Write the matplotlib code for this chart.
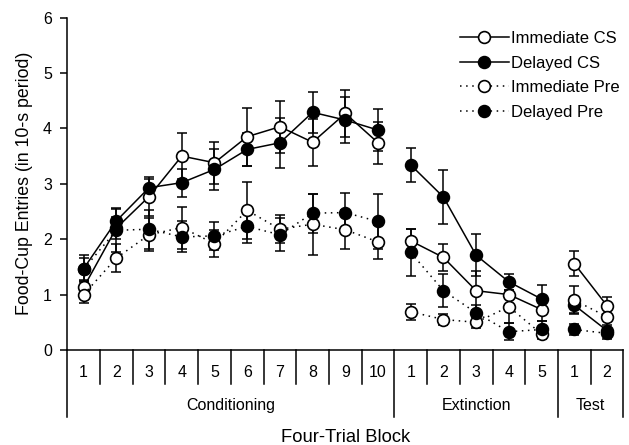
import numpy as np
import matplotlib
matplotlib.use('Agg')
import matplotlib.pyplot as plt
from matplotlib.lines import Line2D
from matplotlib.transforms import blended_transform_factory

plt.rcParams['font.family'] = ['Liberation Sans', 'DejaVu Sans']
plt.rcParams['font.size'] = 11.5

# blocks: 10 conditioning, 5 extinction, 2 test
groups = ['Conditioning', 'Extinction', 'Test']
group_sizes = [10, 5, 2]
block_labels = [str(i) for i in range(1, 11)] + [str(i) for i in range(1, 6)] + ['1', '2']

imm_cs = [1.13, 2.20, 2.77, 3.50, 3.38, 3.85, 4.03, 3.75, 4.27, 3.74,
          1.97, 1.67, 1.07, 1.00, 0.73,
          1.56, 0.80]
imm_cs_err = [0.12, 0.20, 0.35, 0.42, 0.38, 0.52, 0.47, 0.42, 0.42, 0.38,
              0.22, 0.25, 0.35, 0.20, 0.20,
              0.22, 0.15]

del_cs = [1.47, 2.33, 2.93, 3.02, 3.26, 3.62, 3.74, 4.29, 4.15, 3.97,
          3.34, 2.76, 1.71, 1.23, 0.92,
          0.81, 0.35]
del_cs_err = [0.25, 0.22, 0.15, 0.25, 0.37, 0.30, 0.45, 0.37, 0.42, 0.38,
              0.30, 0.48, 0.38, 0.15, 0.25,
              0.15, 0.10]

imm_pre = [1.00, 1.66, 2.08, 2.21, 1.92, 2.52, 2.18, 2.27, 2.17, 1.95,
           0.69, 0.55, 0.50, 0.78, 0.29,
           0.90, 0.60]
imm_pre_err = [0.15, 0.25, 0.30, 0.38, 0.25, 0.52, 0.25, 0.55, 0.35, 0.30,
               0.14, 0.10, 0.10, 0.30, 0.10,
               0.25, 0.20]

del_pre = [1.46, 2.16, 2.18, 2.04, 2.06, 2.23, 2.08, 2.47, 2.48, 2.32,
           1.76, 1.07, 0.67, 0.33, 0.37,
           0.37, 0.30]
del_pre_err = [0.20, 0.40, 0.35, 0.28, 0.25, 0.30, 0.30, 0.35, 0.35, 0.50,
               0.42, 0.30, 0.15, 0.15, 0.15,
               0.10, 0.10]

series = [
    ('Immediate CS', imm_cs, imm_cs_err, 'white', '-'),
    ('Delayed CS', del_cs, del_cs_err, 'black', '-'),
    ('Immediate Pre', imm_pre, imm_pre_err, 'white', (0, (1, 3))),
    ('Delayed Pre', del_pre, del_pre_err, 'black', (0, (1, 3))),
]


def main():
    fig = plt.figure(figsize=(6.29, 4.45), dpi=100)
    ax = fig.add_axes([0.107, 0.2135, 0.884, 0.747])

    x = np.arange(len(block_labels)) + 0.5
    bounds = np.cumsum([0] + group_sizes)

    handles = []
    for label, y, err, face, ls in series:
        y = np.asarray(y)
        err = np.asarray(err)
        ax.errorbar(x, y, yerr=err, fmt='none', ecolor='black', elinewidth=1.1,
                    capsize=3.5, capthick=1.1, zorder=2)
        for a, b in zip(bounds[:-1], bounds[1:]):
            ax.plot(x[a:b], y[a:b], color='black', linestyle=ls, linewidth=1.1,
                    marker='o', markersize=8.5, markerfacecolor=face,
                    markeredgecolor='black', markeredgewidth=1.2, zorder=3)
        handles.append(Line2D([], [], color='black', linestyle=ls, linewidth=1.1,
                              marker='o', markersize=8.5, markerfacecolor=face,
                              markeredgecolor='black', markeredgewidth=1.2,
                              label=label))

    ax.set_xlim(0, len(block_labels))
    ax.set_ylim(0, 6)
    ax.set_yticks(range(7))
    ax.set_xticks([])
    ax.tick_params(axis='y', direction='out', length=5, width=1.1, pad=6)
    for s in ['top', 'right']:
        ax.spines[s].set_visible(False)
    ax.spines['left'].set_linewidth(1.1)
    ax.spines['bottom'].set_linewidth(1.1)

    ax.set_ylabel('Food-Cup Entries (in 10-s period)', labelpad=7, fontsize=12.8)

    # category table below the axis
    trans = blended_transform_factory(ax.transData, ax.transAxes)
    for b in range(len(block_labels) + 1):
        top_len = -0.2016 if b in bounds else -0.102
        ax.plot([b, b], [0, top_len], color='black', linewidth=1.1,
                transform=trans, clip_on=False)
    for xi, lab in zip(x, block_labels):
        ax.text(xi, -0.069, lab, transform=trans, ha='center', va='center')
    for a, b, g in zip(bounds[:-1], bounds[1:], groups):
        ax.text((a + b) / 2, -0.168, g, transform=trans, ha='center', va='center')
    ax.text(0.5, -0.262, 'Four-Trial Block', transform=ax.transAxes,
            ha='center', va='center', fontsize=13.2)

    ax.legend(handles=handles, loc='upper right', bbox_to_anchor=(1.012, 0.99),
              frameon=False, fontsize=12, handlelength=2.95, handletextpad=0.15,
              labelspacing=0.58, borderaxespad=0.2)

    fig.savefig('out.png', dpi=100, facecolor='white')


if __name__ == '__main__':
    main()
